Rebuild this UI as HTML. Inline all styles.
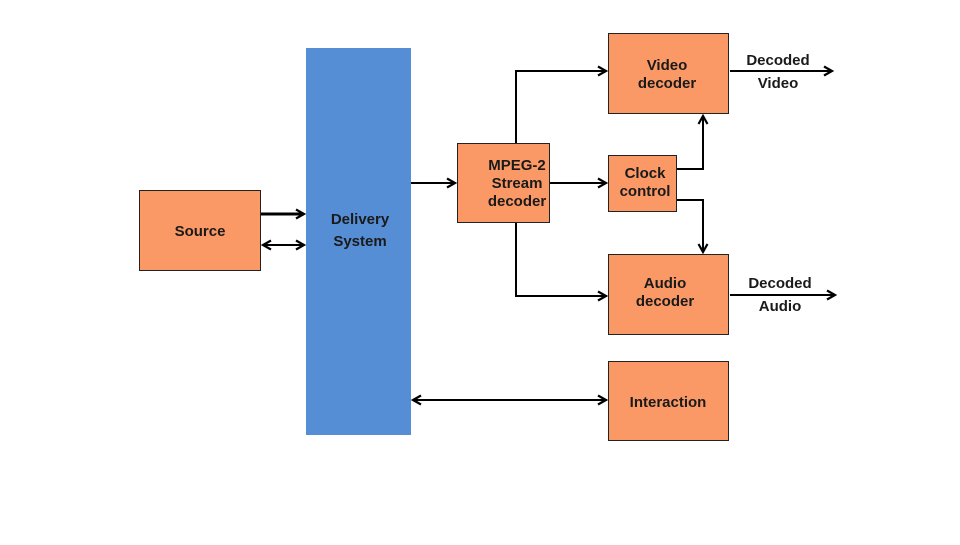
<!DOCTYPE html>
<html><head><style>
body{margin:0;background:#fff;}
svg text{font-family:"Liberation Sans",sans-serif;font-weight:bold;font-size:15px;fill:#1a1a1a;text-anchor:middle;}
</style></head><body>
<svg width="960" height="540" viewBox="0 0 960 540">
<defs>
<marker id="a" markerWidth="12" markerHeight="12" refX="9" refY="6" orient="auto-start-reverse" markerUnits="userSpaceOnUse">
<path d="M1,1.5 L9,6 L1,10.5" fill="none" stroke="#000" stroke-width="2.2"/>
</marker>
</defs>
<g fill="#fb9966" stroke="#222" stroke-width="1">
<rect x="139.5" y="190.5" width="121" height="80"/>
<rect x="457.5" y="143.5" width="92" height="79"/>
<rect x="608.5" y="33.5" width="120" height="80"/>
<rect x="608.5" y="155.5" width="68" height="56"/>
<rect x="608.5" y="254.5" width="120" height="80"/>
<rect x="608.5" y="361.5" width="120" height="79"/>
</g>
<rect x="306" y="48" width="105" height="387" fill="#558ed5"/>
<g stroke="#000" stroke-width="2" fill="none">
<line x1="261" y1="214" x2="304" y2="214" marker-end="url(#a)" stroke-width="3"/>
<line x1="263" y1="245" x2="304" y2="245" marker-start="url(#a)" marker-end="url(#a)"/>
<line x1="411" y1="183" x2="455" y2="183" marker-end="url(#a)"/>
<line x1="550" y1="183" x2="606" y2="183" marker-end="url(#a)"/>
<polyline points="516,143 516,71 606,71" marker-end="url(#a)"/>
<polyline points="516,223 516,296 606,296" marker-end="url(#a)"/>
<polyline points="677,169 703,169 703,116" marker-end="url(#a)"/>
<polyline points="677,200 703,200 703,252" marker-end="url(#a)"/>
<line x1="730" y1="71" x2="832" y2="71" marker-end="url(#a)"/>
<line x1="730" y1="295" x2="835" y2="295" marker-end="url(#a)"/>
<line x1="413" y1="400" x2="606" y2="400" marker-start="url(#a)" marker-end="url(#a)"/>
</g>
<text x="200" y="236">Source</text>
<text x="360" y="224" fill="#0d1a33">Delivery</text>
<text x="360" y="246" fill="#0d1a33">System</text>
<text x="517" y="170">MPEG-2</text>
<text x="517" y="188">Stream</text>
<text x="517" y="206">decoder</text>
<text x="667" y="70">Video</text>
<text x="667" y="88">decoder</text>
<text x="645" y="178">Clock</text>
<text x="645" y="196">control</text>
<text x="665" y="288">Audio</text>
<text x="665" y="306">decoder</text>
<text x="668" y="407">Interaction</text>
<text x="778" y="65">Decoded</text>
<text x="778" y="88">Video</text>
<text x="780" y="288">Decoded</text>
<text x="780" y="311">Audio</text>
</svg>
</body></html>
